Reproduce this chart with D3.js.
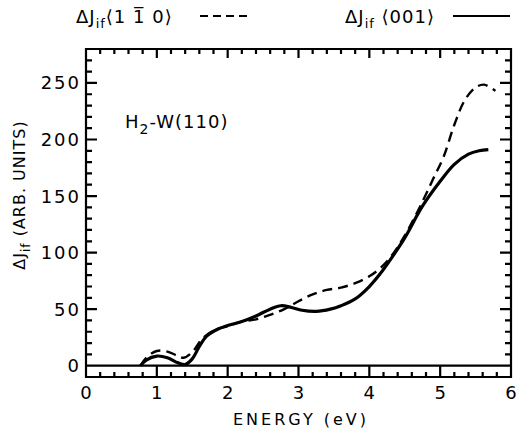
<!DOCTYPE html>
<html>
<head>
<meta charset="utf-8">
<script src="https://cdn.jsdelivr.net/npm/d3@7"></script>
<style>
  body { margin: 0; background: #fff; }
  svg { display: block; font-family: "DejaVu Sans", sans-serif; }
</style>
</head>
<body>
<div id="chart"></div>
<script>
// <001> curve (solid)
var energy001 = [0.77, 0.85, 1.0, 1.15, 1.3, 1.4, 1.5, 1.6, 1.7, 1.85, 2.0, 2.2, 2.4, 2.6, 2.75, 2.9, 3.05, 3.25, 3.45, 3.6, 3.8, 4.0, 4.15, 4.3, 4.5, 4.75, 5.0, 5.2, 5.4, 5.55, 5.68];
var dj001 = [0, 5, 8.5, 7, 2.5, 1, 6, 17, 26, 32, 35.5, 39, 44, 50, 53, 51.5, 49, 48, 50, 53, 59, 70, 81, 94, 113, 141, 163, 178, 187, 190, 191];

// <1-10> curve (dashed)
var energy110 = [0.77, 0.85, 1.0, 1.15, 1.3, 1.38, 1.5, 1.63, 1.8, 2.0, 2.2, 2.4, 2.6, 2.8, 3.0, 3.2, 3.4, 3.6, 3.8, 4.0, 4.15, 4.3, 4.5, 4.75, 4.9, 5.05, 5.2, 5.35, 5.5, 5.62, 5.78];
var dj110 = [0, 7, 13, 12.5, 8.5, 7, 12, 23, 31, 35, 39, 41, 45, 50, 57, 63, 67, 69, 73, 79, 86, 96, 115, 145, 165, 185, 213, 235, 246, 248.5, 243];

var xTicks = [0, 1, 2, 3, 4, 5, 6];
var xMinor = d3.range(0, 6.01, 0.2);
var yTicks = [0, 50, 100, 150, 200, 250];
var yMinor = d3.range(0, 280, 10);

var width = 516, height = 429;
var margin = { left: 86, right: 511, top: 49, bottom: 377 };

var xScale = d3.scaleLinear().domain([0, 6]).range([margin.left, margin.right]);
var yScale = d3.scaleLinear().domain([-10, 280]).range([margin.bottom, margin.top]);

var svg = d3.select('#chart').append('svg')
  .attr('width', width).attr('height', height);

function isMajor(v, step) { return Math.abs(v / step - Math.round(v / step)) < 1e-6; }

// frame + inward ticks as one path
var p = d3.path();
p.rect(margin.left, margin.top, margin.right - margin.left, margin.bottom - margin.top);
yMinor.forEach(function (v) {
  var len = isMajor(v, 50) ? 11 : 6;
  var yy = yScale(v);
  p.moveTo(margin.left, yy); p.lineTo(margin.left + len, yy);
  p.moveTo(margin.right, yy); p.lineTo(margin.right - len, yy);
});
xMinor.forEach(function (v) {
  var xx = xScale(v);
  var lenB = isMajor(v, 1) ? margin.bottom - yScale(0) : 5;
  var lenT = isMajor(v, 1) ? 9 : 5;
  p.moveTo(xx, margin.bottom); p.lineTo(xx, margin.bottom - lenB);
  p.moveTo(xx, margin.top); p.lineTo(xx, margin.top + lenT);
});
// zero line
p.moveTo(margin.left, yScale(0)); p.lineTo(margin.right, yScale(0));

svg.append('path')
  .attr('d', p.toString())
  .attr('fill', 'none').attr('stroke', '#000').attr('stroke-width', 2.2);

// tick labels
svg.selectAll('text.ylab').data(yTicks).join('text')
  .attr('class', 'ylab')
  .attr('x', margin.left - 5)
  .attr('y', function (d) { return yScale(d); })
  .attr('dy', '0.36em')
  .attr('text-anchor', 'end')
  .style('font-size', '18px').style('letter-spacing', '2px')
  .text(function (d) { return d; });

svg.selectAll('text.xlab').data(xTicks).join('text')
  .attr('class', 'xlab')
  .attr('x', function (d) { return xScale(d); })
  .attr('y', 399)
  .attr('text-anchor', 'middle')
  .style('font-size', '18px')
  .text(function (d) { return d; });

var curve = d3.line()
  .x(function (d) { return xScale(d[0]); })
  .y(function (d) { return yScale(d[1]); })
  .curve(d3.curveCatmullRom.alpha(0.5));

svg.append('path')
  .datum(d3.zip(energy110, dj110))
  .attr('d', curve)
  .attr('fill', 'none').attr('stroke', '#000')
  .attr('stroke-width', 2.4).attr('stroke-dasharray', '10,6');

svg.append('path')
  .datum(d3.zip(energy001, dj001))
  .attr('d', curve)
  .attr('fill', 'none').attr('stroke', '#000')
  .attr('stroke-width', 3.2);

// axis titles
svg.append('text')
  .attr('x', 301).attr('y', 425)
  .attr('text-anchor', 'middle')
  .style('font-size', '16px').style('letter-spacing', '3px')
  .text('ENERGY (eV)');

var yl = svg.append('text')
  .attr('transform', 'translate(25,195) rotate(-90)')
  .attr('text-anchor', 'middle')
  .style('font-size', '16px').style('letter-spacing', '1px');
yl.append('tspan').text('\u0394J');
yl.append('tspan').attr('dy', 5).style('font-size', '12px').text('if');
yl.append('tspan').attr('dy', -5).text(' (ARB. UNITS)');

// annotation
var ann = svg.append('text')
  .attr('x', 125).attr('y', 128)
  .style('font-size', '18px').style('letter-spacing', '1px');
ann.append('tspan').text('H');
ann.append('tspan').attr('dy', 6).style('font-size', '14px').text('2');
ann.append('tspan').attr('dy', -6).text('-W(110)');

// legend
var lg1 = svg.append('text')
  .attr('x', 76).attr('y', 23)
  .style('font-size', '18px').style('letter-spacing', '1px');
lg1.append('tspan').text('\u0394J');
lg1.append('tspan').attr('dy', 5).style('font-size', '13px').text('if');
lg1.append('tspan').attr('dy', -5).text('\u27E81\u00A01\u0305\u00A00\u27E9');

svg.append('line')
  .attr('x1', 200).attr('x2', 247).attr('y1', 16).attr('y2', 16)
  .attr('stroke', '#000').attr('stroke-width', 2).attr('stroke-dasharray', '8,5');

var lg2 = svg.append('text')
  .attr('x', 345).attr('y', 23)
  .style('font-size', '18px').style('letter-spacing', '1px');
lg2.append('tspan').text('\u0394J');
lg2.append('tspan').attr('dy', 5).style('font-size', '13px').text('if');
lg2.append('tspan').attr('dy', -5).text(' \u27E8001\u27E9');

svg.append('line')
  .attr('x1', 453).attr('x2', 510).attr('y1', 16).attr('y2', 16)
  .attr('stroke', '#000').attr('stroke-width', 2);
</script>
</body>
</html>
